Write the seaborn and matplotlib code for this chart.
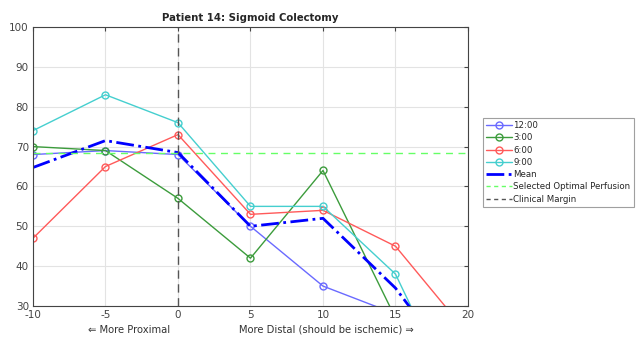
import numpy as np
import pandas as pd
import matplotlib
matplotlib.use("Agg")
import matplotlib.pyplot as plt
import seaborn as sns

positions = [-10, -5, 0, 5, 10, 15, 20]
s1200 = [68, 69, 68, 50, 35, 28, 10]
s300 = [70, 69, 57, 42, 64, 27, 8]
s600 = [47, 65, 73, 53, 54, 45, 23]
s900 = [74, 83, 76, 55, 55, 38, 0]
series_names = ["12:00", "3:00", "6:00", "9:00"]
optimal_perfusion = 68.5
clinical_margin = 0
x_ticks = [-10, -5, 0, 5, 10, 15, 20]
y_ticks = [30, 40, 50, 60, 70, 80, 90, 100]

sns.set_style("white")
plt.rcParams['font.family'] = ['DejaVu Sans']
plt.rcParams['axes.unicode_minus'] = False

df = pd.DataFrame({"pos": positions, "12:00": s1200, "3:00": s300, "6:00": s600, "9:00": s900})
df["Mean"] = df[series_names].mean(axis=1)

fig = plt.figure(figsize=(6.39, 3.41), dpi=100)
ax = fig.add_axes([0.0516, 0.1026, 0.6808, 0.8182])

colors = {"12:00": "#6a6aff", "3:00": "#3c9c3c", "6:00": "#ff5a5a", "9:00": "#45cfcf"}
for name in series_names:
    sns.lineplot(data=df, x="pos", y=name, ax=ax, color=colors[name], lw=1.0,
                 marker="o", markersize=5, markerfacecolor="none",
                 markeredgecolor=colors[name], markeredgewidth=1.0, label=name)
sns.lineplot(data=df, x="pos", y="Mean", ax=ax, color="#0000ff", lw=2.0,
             linestyle="-.", label="Mean")
ax.axhline(optimal_perfusion, color="#66ff66", lw=1.0, ls=(0, (5, 4)),
           label="Selected Optimal Perfusion")
ax.axvline(clinical_margin, color="#555555", lw=1.0, ls=(0, (6, 4)),
           label="Clinical Margin")

ax.set_xlim(-10, 20)
ax.set_ylim(30, 100)
ax.set_xticks(x_ticks)
ax.set_yticks(y_ticks)
ax.grid(True, color="#e3e3e3", lw=0.8)
ax.tick_params(direction="in", length=3, labelsize=7.5, colors="#444444",
               top=True, right=True, labeltop=False, labelright=False, pad=3)
for sp in ax.spines.values():
    sp.set_color("#444444")
    sp.set_linewidth(0.8)
ax.set_ylabel("")
ax.set_xlabel("⇐ More Proximal                      More Distal (should be ischemic) ⇒",
              fontsize=7.2, color="#333333", labelpad=3)
ax.set_title("Patient 14: Sigmoid Colectomy", fontsize=7.3, fontweight="bold", pad=4)

leg = ax.legend(loc="upper left", bbox_to_anchor=(1.034, 0.675), fontsize=6.2,
                frameon=True, fancybox=False, edgecolor="#888888",
                handlelength=3.0, handletextpad=0.15, labelspacing=0.38,
                borderpad=0.4, borderaxespad=0)
leg.get_frame().set_linewidth(0.8)
for h in leg.get_lines()[5:]:
    h.set_dashes((3, 2.5))

fig.savefig("out.png", dpi=100)
